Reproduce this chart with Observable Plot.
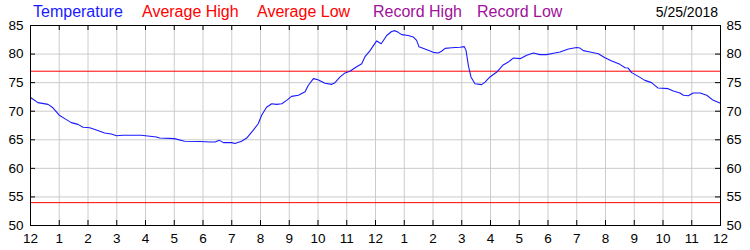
<!DOCTYPE html>
<html>
<head>
<meta charset="utf-8">
<script src="https://cdn.jsdelivr.net/npm/d3@7"></script>
<script src="https://cdn.jsdelivr.net/npm/@observablehq/plot@0.6"></script>
<style>
  html, body { margin: 0; padding: 0; background: #fff; }
  body { width: 750px; height: 250px; overflow: hidden; font-family: "Liberation Sans", Arial, sans-serif; }
  #legend { position: relative; height: 18px; font-size: 16px; line-height: 18px; }
  #legend span { position: absolute; top: 3px; white-space: nowrap; }
  #chart svg { display: block; }
</style>
</head>
<body>
<div id="legend"></div>
<div id="chart"></div>
<script>
// ---- data ----
const hours = [0.0,0.26,0.61,0.78,1.0,1.19,1.42,1.65,1.83,2.06,2.29,2.58,2.81,2.99,3.22,3.85,4.38,4.49,5.01,5.36,5.9,6.24,6.42,6.57,6.71,7.0,7.11,7.34,7.52,7.75,7.92,8.04,8.21,8.39,8.56,8.74,8.91,9.08,9.32,9.55,9.66,9.84,10.0,10.24,10.48,10.59,10.77,10.94,11.11,11.29,11.52,11.63,11.81,12.04,12.2,12.39,12.56,12.68,12.79,12.91,13.14,13.31,13.43,13.51,13.72,14.01,14.18,14.3,14.42,14.65,14.94,15.09,15.15,15.23,15.32,15.46,15.69,15.81,15.98,16.22,16.44,16.62,16.79,17.03,17.26,17.49,17.72,17.95,18.24,18.42,18.71,19.0,19.11,19.23,19.46,19.75,19.98,20.22,20.5,20.68,20.79,20.91,21.14,21.37,21.6,21.83,22.18,22.36,22.59,22.71,22.88,23.05,23.29,23.52,23.75,24.0];
const temperature = [72.4,71.5,71.2,70.6,69.3,68.7,68.0,67.7,67.2,67.1,66.7,66.2,66.0,65.7,65.8,65.8,65.5,65.3,65.2,64.75,64.7,64.6,64.6,64.9,64.5,64.5,64.35,64.75,65.3,66.7,67.8,69.3,70.7,71.3,71.2,71.3,71.9,72.6,72.8,73.4,74.5,75.7,75.5,74.9,74.7,75.0,76.0,76.7,77.0,77.6,78.3,79.5,80.6,82.3,81.8,83.25,83.95,84.1,83.8,83.4,83.25,83.0,82.4,81.3,80.9,80.3,80.2,80.5,81.0,81.1,81.2,81.3,80.6,78.0,76.0,74.8,74.65,75.1,76.0,76.85,78.1,78.6,79.3,79.2,79.8,80.2,79.9,79.9,80.2,80.35,80.9,81.15,81.05,80.6,80.35,80.05,79.35,78.8,78.2,77.6,77.55,76.75,76.1,75.4,75.0,74.05,73.95,73.55,73.2,72.8,72.7,73.2,73.2,72.8,71.9,71.4];
const averageHigh = 77;
const averageLow = 54;
const xTicks = d3.range(0, 25);
const xTickLabels = ["12","1","2","3","4","5","6","7","8","9","10","11","12","1","2","3","4","5","6","7","8","9","10","11","12"];
const yTicks = [50,55,60,65,70,75,80,85];
const legendItems = ["Temperature","Average High","Average Low","Record High","Record Low"];
const legendColors = ["#1a1aff","#ff0000","#ff0000","#a0109a","#a0109a"];
const legendX = [33,142,257,373,477];
const dateLabel = "5/25/2018";

// ---- legend (HTML) ----
const legend = document.getElementById("legend");
legendItems.forEach((t, i) => {
  const s = document.createElement("span");
  s.textContent = t; s.style.left = legendX[i] + "px"; s.style.color = legendColors[i];
  legend.appendChild(s);
});
const ds = document.createElement("span");
ds.textContent = dateLabel; ds.style.right = "32px"; ds.style.color = "#000"; ds.style.fontSize = "14px";
legend.appendChild(ds);

// ---- chart ----
const temps = hours.map((h, i) => ({h, t: temperature[i]}));
const grid = "#cccccc";
const chart = Plot.plot({
  width: 750,
  height: 232,
  marginLeft: 30,
  marginRight: 30,
  marginTop: 7,
  marginBottom: 25,
  style: {fontFamily: "'Liberation Sans', Arial, sans-serif", fontSize: "13.5px", color: "#000", background: "#fff"},
  x: {domain: [0, 24], ticks: xTicks},
  y: {domain: [50, 85], ticks: yTicks},
  marks: [
    Plot.gridX(xTicks, {stroke: grid, strokeOpacity: 1}),
    Plot.gridY(yTicks, {stroke: grid, strokeOpacity: 1}),
    Plot.ruleY([averageHigh, averageLow], {stroke: "#ff0000", strokeWidth: 1}),
    Plot.line(temps, {x: "h", y: "t", stroke: "#1a1aff", strokeWidth: 1.1}),
    Plot.tickX(xTicks, {x: d => d, stroke: "#000", insetBottom: 195}),
    Plot.tickX(xTicks, {x: d => d, stroke: "#000", insetTop: 195}),
    Plot.tickY(yTicks, {y: d => d, stroke: "#000", insetRight: 685}),
    Plot.tickY(yTicks, {y: d => d, stroke: "#000", insetLeft: 685}),
    Plot.frame({stroke: "#000"}),
    Plot.axisX(xTicks, {anchor: "bottom", tickSize: 0, tickPadding: 8, tickFormat: (d, i) => xTickLabels[i], label: null, fill: "#000"}),
    Plot.axisY(yTicks, {anchor: "left", tickSize: 0, tickPadding: 7, label: null, fill: "#000"}),
    Plot.axisY(yTicks, {anchor: "right", tickSize: 0, tickPadding: 6, label: null, fill: "#000"})
  ]
});
document.getElementById("chart").appendChild(chart);
</script>
</body>
</html>
